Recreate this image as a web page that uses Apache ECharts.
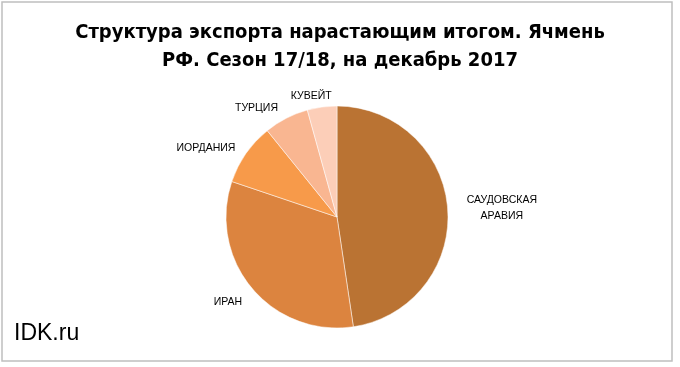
<!DOCTYPE html>
<html><head><meta charset="utf-8">
<script src="https://cdn.jsdelivr.net/npm/echarts@6/dist/echarts.min.js"></script>
<style>html,body{margin:0;padding:0;background:#fff}#c{width:680px;height:367px}</style>
</head><body><div id="c"></div>
<script>
const categories = ['САУДОВСКАЯ\nАРАВИЯ', 'ИРАН', 'ИОРДАНИЯ', 'ТУРЦИЯ', 'КУВЕЙТ'];
const values = [47.6, 32.5, 9.0, 6.5, 4.3];
const colors = ['#BA7333', '#DC843F', '#F79A4A', '#F9B691', '#FCCEB8'];
const titleText = 'Структура экспорта нарастающим итогом. Ячмень\nРФ. Сезон 17/18, на декабрь 2017';

const labelShift = [[0, 0], [7, 7], [2, 0], [3, -2], [20, -1]];
const chart = echarts.init(document.getElementById('c'), null, {renderer: 'canvas'});
chart.setOption({
  animation: false,
  backgroundColor: '#fff',
  title: {
    text: titleText, left: 'center', top: 14,
    textStyle: {fontFamily: 'DejaVu Sans Condensed, Liberation Sans', fontWeight: 'bold', fontSize: 20, lineHeight: 28, color: '#000'}
  },
  graphic: [
    {type: 'rect', shape: {x: 2, y: 2, width: 670, height: 359}, style: {fill: 'none', stroke: '#BFBFBF', lineWidth: 1.5}, silent: true},
    {type: 'text', left: 14, top: 322, style: {text: 'IDK.ru', font: '23px "Liberation Sans"', fill: '#000'}}
  ],
  series: [{
    type: 'pie',
    center: [337, 217], radius: [0, 111],
    startAngle: 90, clockwise: true,
    data: categories.map((n, i) => ({name: n, value: values[i], itemStyle: {color: colors[i]}})),
    itemStyle: {borderColor: '#fff', borderWidth: 0.5},
    label: {
      show: true, position: 'outside', color: '#000',
      formatter: p => p.name.split('\n').map(s => '{c|' + s + '}').join('\n'),
      rich: {c: {align: 'center', fontFamily: 'Liberation Sans', fontSize: 10.5, lineHeight: 16, color: '#000'}}
    },
    labelLine: {show: false, length: 10, length2: 4},
    labelLayout: p => ({dx: labelShift[p.dataIndex][0], dy: labelShift[p.dataIndex][1]}),
    emphasis: {disabled: true}
  }]
});
</script></body></html>
